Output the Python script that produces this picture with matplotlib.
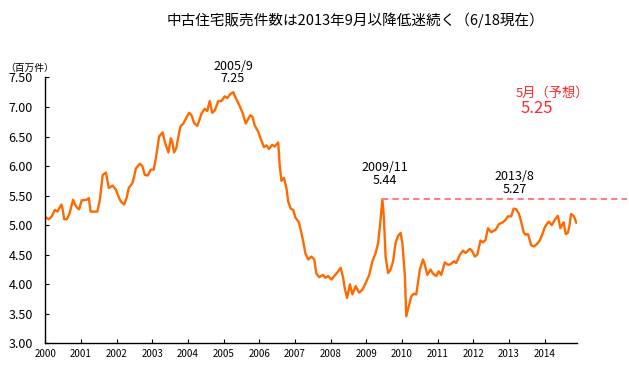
import matplotlib
matplotlib.use("Agg")
import matplotlib.pyplot as plt

plt.rcParams['font.family'] = ['Noto Sans CJK JP', 'DejaVu Sans']

# 中古住宅販売件数（百万件）, x = position on the year axis
years = [2000.02, 2000.10, 2000.18, 2000.27, 2000.34, 2000.45, 2000.49, 2000.53, 2000.60, 2000.67,
         2000.78, 2000.83, 2000.90, 2000.95, 2001.02, 2001.16, 2001.22, 2001.27, 2001.46, 2001.53,
         2001.61, 2001.70, 2001.78, 2001.89, 2001.98, 2002.07, 2002.12, 2002.21, 2002.28, 2002.34,
         2002.44, 2002.49, 2002.54, 2002.65, 2002.72, 2002.79, 2002.87, 2002.96, 2003.04, 2003.09,
         2003.15, 2003.19, 2003.29, 2003.35, 2003.45, 2003.52, 2003.56, 2003.61, 2003.67, 2003.75,
         2003.79, 2003.87, 2003.93, 2004.03, 2004.10, 2004.17, 2004.26, 2004.31, 2004.38, 2004.47,
         2004.54, 2004.61, 2004.68, 2004.75, 2004.85, 2004.94, 2005.03, 2005.10, 2005.19, 2005.27,
         2005.34, 2005.43, 2005.53, 2005.62, 2005.69, 2005.75, 2005.81, 2005.87, 2005.97, 2006.04,
         2006.13, 2006.20, 2006.27, 2006.36, 2006.43, 2006.53, 2006.57, 2006.62, 2006.69, 2006.76,
         2006.81, 2006.88, 2006.95, 2007.01, 2007.11, 2007.16, 2007.23, 2007.29, 2007.37, 2007.46,
         2007.54, 2007.60, 2007.68, 2007.79, 2007.85, 2007.93, 2008.02, 2008.13, 2008.21, 2008.28,
         2008.35, 2008.39, 2008.46, 2008.54, 2008.61, 2008.70, 2008.80, 2008.89, 2008.98, 2009.08,
         2009.17, 2009.26, 2009.33, 2009.39, 2009.45, 2009.49, 2009.54, 2009.61, 2009.68, 2009.75,
         2009.82, 2009.89, 2009.96, 2010.01, 2010.08, 2010.12, 2010.19, 2010.26, 2010.33, 2010.40,
         2010.50, 2010.59, 2010.64, 2010.71, 2010.80, 2010.87, 2010.96, 2011.03, 2011.10, 2011.20,
         2011.29, 2011.36, 2011.46, 2011.52, 2011.62, 2011.71, 2011.78, 2011.90, 2011.96, 2012.04,
         2012.11, 2012.20, 2012.27, 2012.34, 2012.41, 2012.50, 2012.58, 2012.62, 2012.72, 2012.83,
         2012.90, 2012.97, 2013.06, 2013.13, 2013.20, 2013.28, 2013.34, 2013.41, 2013.46, 2013.53,
         2013.58, 2013.62, 2013.70, 2013.78, 2013.86, 2013.93, 2014.00, 2014.06, 2014.12, 2014.20,
         2014.28, 2014.37, 2014.44, 2014.49, 2014.53, 2014.59, 2014.65, 2014.69, 2014.74, 2014.82,
         2014.89]
sales = [5.13, 5.10, 5.15, 5.26, 5.23, 5.35, 5.26, 5.10, 5.10, 5.18,
         5.43, 5.35, 5.29, 5.27, 5.42, 5.43, 5.46, 5.23, 5.23, 5.43,
         5.85, 5.89, 5.63, 5.67, 5.60, 5.46, 5.40, 5.35, 5.46, 5.63,
         5.71, 5.82, 5.96, 6.04, 6.00, 5.85, 5.84, 5.94, 5.94, 6.10,
         6.33, 6.50, 6.57, 6.41, 6.23, 6.47, 6.41, 6.23, 6.30, 6.56,
         6.67, 6.72, 6.79, 6.90, 6.86, 6.73, 6.68, 6.76, 6.89, 6.97,
         6.93, 7.10, 6.90, 6.94, 7.10, 7.10, 7.18, 7.15, 7.22, 7.25,
         7.15, 7.04, 6.90, 6.72, 6.80, 6.86, 6.83, 6.69, 6.58, 6.46,
         6.32, 6.35, 6.29, 6.36, 6.33, 6.40, 6.02, 5.75, 5.80, 5.63,
         5.40, 5.28, 5.26, 5.13, 5.05, 4.92, 4.73, 4.53, 4.42, 4.47,
         4.42, 4.18, 4.12, 4.16, 4.11, 4.14, 4.08, 4.16, 4.22, 4.28,
         4.11, 3.95, 3.77, 4.00, 3.83, 3.97, 3.86, 3.91, 4.02, 4.16,
         4.39, 4.53, 4.70, 5.04, 5.44, 5.15, 4.47, 4.19, 4.25, 4.39,
         4.70, 4.82, 4.87, 4.70, 4.14, 3.46, 3.63, 3.80, 3.84, 3.83,
         4.25, 4.42, 4.33, 4.16, 4.25, 4.18, 4.14, 4.22, 4.16, 4.37,
         4.33, 4.34, 4.39, 4.36, 4.50, 4.57, 4.53, 4.60, 4.57, 4.47,
         4.50, 4.74, 4.71, 4.75, 4.95, 4.88, 4.91, 4.92, 5.02, 5.05,
         5.09, 5.15, 5.15, 5.28, 5.27, 5.19, 5.06, 4.88, 4.84, 4.85,
         4.75, 4.66, 4.64, 4.68, 4.74, 4.84, 4.96, 5.02, 5.06, 5.00,
         5.09, 5.16, 4.95, 5.01, 5.05, 4.85, 4.87, 4.98, 5.19, 5.15,
         5.04]

year_ticks = list(range(2000, 2015))
y_ticks = [3.0, 3.5, 4.0, 4.5, 5.0, 5.5, 6.0, 6.5, 7.0, 7.5]

peak_2009 = (2009.45, 5.44)
dash_end = 2016.32

fig = plt.figure(figsize=(6.29, 3.65), dpi=100)
ax = fig.add_axes([0.072, 0.059, 0.845, 0.729])

ax.plot(years, sales, color='#FF6A00', linewidth=1.7)
ax.plot([peak_2009[0], dash_end], [peak_2009[1], peak_2009[1]], color='#FF7F7F',
        linewidth=1.5, linestyle=(0, (3, 2)), clip_on=False)

ax.set_xlim(2000, 2014.9)
ax.set_ylim(3.0, 7.5)
ax.set_xticks(year_ticks)
ax.set_xticklabels([str(y) for y in year_ticks], fontsize=7)
ax.set_yticks(y_ticks)
ax.set_yticklabels(['%.2f' % v for v in y_ticks], fontsize=9)
ax.tick_params(direction='in', length=3, width=0.8, color='black')
ax.tick_params(axis='x', pad=4)
ax.tick_params(axis='y', pad=9)
for s in ['top', 'right']:
    ax.spines[s].set_visible(False)
for s in ['left', 'bottom']:
    ax.spines[s].set_linewidth(1.0)

# annotations
ax.text(2005.26, 7.58, '2005/9\n7.25', ha='center', va='center', fontsize=9, linespacing=0.95)
ax.text(2009.52, 5.865, '2009/11\n5.44', ha='center', va='center', fontsize=9, linespacing=0.95)
ax.text(2013.16, 5.715, '2013/8\n5.27', ha='center', va='center', fontsize=9, linespacing=0.95)
ax.text(2014.22, 7.24, '5月（予想）', ha='center', va='center', fontsize=9.5, color='#FF2A2A')
ax.text(2013.79, 6.98, '5.25', ha='center', va='center', fontsize=12, color='#FF2A2A')

fig.text(0.565, 0.945, '中古住宅販売件数は2013年9月以降低迷続く（6/18現在）',
         ha='center', va='center', fontsize=10.5)
fig.text(0.008, 0.815, '（百万件）', ha='left', va='center', fontsize=7)

fig.savefig('out.png', dpi=100)
